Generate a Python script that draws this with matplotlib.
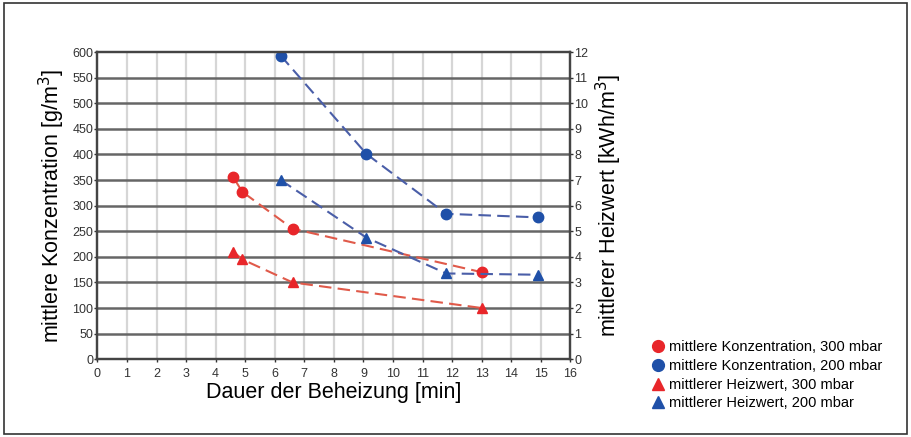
import matplotlib.pyplot as plt
from matplotlib.patches import Rectangle

plt.rcParams['font.family'] = ['Liberation Sans', 'DejaVu Sans']

# data
konz_300_x = [4.6, 4.9, 6.6, 13.0]
konz_300_y = [355, 327, 255, 170]
konz_200_x = [6.2, 9.1, 11.8, 14.9]
konz_200_y = [593, 401, 284, 277]
heiz_300_x = [4.6, 4.9, 6.6, 13.0]
heiz_300_y = [4.2, 3.9, 3.0, 2.0]
heiz_200_x = [6.2, 9.1, 11.8, 14.9]
heiz_200_y = [7.0, 4.75, 3.35, 3.3]

x_ticks = list(range(0, 17))
left_ticks = list(range(0, 601, 50))
right_ticks = list(range(0, 13))

red_line = "#e05a4a"
blue_line = "#4a5ea8"
red_mark = "#e8262a"
blue_mark = "#1f50a8"

fig = plt.figure(figsize=(9.11, 4.37), dpi=100)
fig.patches.append(Rectangle((0.004, 0.008), 0.992, 0.984, transform=fig.transFigure,
                             fill=False, edgecolor="#333333", linewidth=1.2))

ax = fig.add_axes([0.107, 0.178, 0.519, 0.703])
ax2 = ax.twinx()

ax.set_xlim(0, 16)
ax.set_ylim(0, 600)
ax2.set_ylim(0, 12)
ax.set_xticks(x_ticks)
ax.set_yticks(left_ticks)
ax2.set_yticks(right_ticks)

for v in x_ticks[1:-1]:
    ax.axvline(v, color="#d6d6d6", linewidth=1.6, zorder=0)
for h in left_ticks[1:-1]:
    ax.axhline(h, color="#666666", linewidth=1.8, zorder=0)

ax.plot(konz_300_x, konz_300_y, "--", color=red_line, lw=1.5, dashes=(6, 3))
ax.plot(konz_200_x, konz_200_y, "--", color=blue_line, lw=1.5, dashes=(6, 3))
ax.plot(konz_300_x, konz_300_y, "o", color=red_mark, ms=7.5)
ax.plot(konz_200_x, konz_200_y, "o", color=blue_mark, ms=7.5)
ax2.plot(heiz_300_x, heiz_300_y, "--", color=red_line, lw=1.5, dashes=(6, 3))
ax2.plot(heiz_200_x, heiz_200_y, "--", color=blue_line, lw=1.5, dashes=(6, 3))
ax2.plot(heiz_300_x, heiz_300_y, "^", color=red_mark, ms=7.5)
ax2.plot(heiz_200_x, heiz_200_y, "^", color=blue_mark, ms=7.5)

for a in (ax, ax2):
    for s in a.spines.values():
        s.set_color("#444444")
        s.set_linewidth(1.6)
    a.tick_params(labelsize=9, length=2, width=1, colors="#333333", pad=1)
ax.tick_params(axis="x", pad=4)

ax.set_xlabel("Dauer der Beheizung [min]", fontsize=15.5, labelpad=2)
ax.set_ylabel("mittlere Konzentration [g/m$^3$]", fontsize=15.5, labelpad=4)
ax2.set_ylabel("mittlerer Heizwert [kWh/m$^3$]", fontsize=15.5, labelpad=4)

handles = [
    plt.Line2D([], [], ls="", marker="o", color=red_mark, ms=8.5),
    plt.Line2D([], [], ls="", marker="o", color=blue_mark, ms=8.5),
    plt.Line2D([], [], ls="", marker="^", color=red_mark, ms=8),
    plt.Line2D([], [], ls="", marker="^", color=blue_mark, ms=8),
]
labels = [
    "mittlere Konzentration, 300 mbar",
    "mittlere Konzentration, 200 mbar",
    "mittlerer Heizwert, 300 mbar",
    "mittlerer Heizwert, 200 mbar",
]
fig.legend(handles, labels, loc="upper left", bbox_to_anchor=(0.706, 0.238),
           frameon=False, fontsize=10.5, handletextpad=0.25, labelspacing=0.32,
           handlelength=1.0, borderpad=0)

fig.savefig("out.png", dpi=100)
